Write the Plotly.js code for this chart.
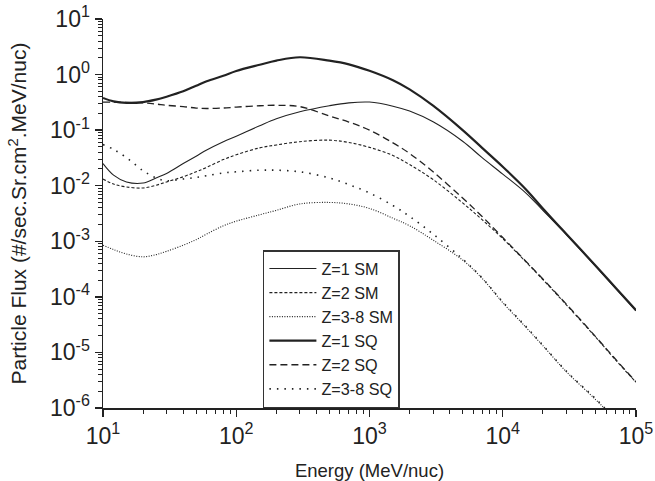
<!DOCTYPE html>
<html>
<head>
<meta charset="utf-8">
<script src="https://cdn.plot.ly/plotly-3.0.1.min.js"></script>
<style>html,body{margin:0;padding:0;background:#fff;}#chart{width:655px;height:481px;}</style>
</head>
<body>
<div id="chart"></div>
<script>
// Energy (MeV/nuc)
const energy = [10,12,15,20,25,30,40,50,60,80,100,150,200,300,500,700,1000,1500,2000,3000,5000,7000,10000,15000,20000,30000,50000,70000,100000];

// Particle flux series
const z1SM  = [0.025,0.0155,0.0117,0.0112,0.0138,0.0166,0.025,0.034,0.044,0.062,0.078,0.12,0.16,0.214,0.275,0.31,0.32,0.27,0.22,0.141,0.063,0.032,0.0162,0.0073,0.0036,0.00132,3.5e-4,1.43e-4,5.6e-5];
const z2SM  = [0.0132,0.0107,0.0095,0.0091,0.0102,0.0117,0.0145,0.0178,0.0214,0.0295,0.036,0.048,0.054,0.062,0.066,0.060,0.049,0.035,0.024,0.0129,0.0049,0.00245,0.00112,4.2e-4,2.05e-4,7.2e-5,1.86e-5,7.4e-6,2.9e-6];
const z38SM = [8.5e-4,7.1e-4,5.9e-4,5.25e-4,5.75e-4,6.6e-4,8.5e-4,1.07e-3,1.35e-3,1.9e-3,2.3e-3,3.0e-3,3.6e-3,4.7e-3,5.0e-3,4.7e-3,3.9e-3,2.6e-3,1.9e-3,1.05e-3,4.6e-4,2.15e-4,7.9e-5,2.8e-5,1.32e-5,4.5e-6,1.4e-6,6.2e-7,2.4e-7];
const z1SQ  = [0.38,0.33,0.31,0.32,0.355,0.40,0.50,0.63,0.76,0.95,1.16,1.50,1.78,2.05,1.78,1.53,1.17,0.79,0.54,0.275,0.10,0.048,0.022,0.0085,0.0039,0.00135,3.6e-4,1.48e-4,5.75e-5];
const z2SQ  = [0.32,0.32,0.315,0.31,0.295,0.28,0.265,0.25,0.245,0.25,0.26,0.275,0.28,0.265,0.18,0.14,0.10,0.059,0.038,0.0178,0.0060,0.0028,0.00117,4.3e-4,2.1e-4,7.4e-5,1.9e-5,7.6e-6,2.95e-6];
const z38SQ = [0.055,0.045,0.032,0.0186,0.0138,0.0123,0.0132,0.0141,0.0151,0.017,0.0178,0.019,0.019,0.0178,0.0138,0.0105,0.0074,0.0044,0.0028,0.00135,4.8e-4,2.2e-4,8.1e-5,2.9e-5,1.35e-5,4.6e-6,1.45e-6,6.3e-7,2.5e-7];

const seriesNames = ['Z=1 SM','Z=2 SM','Z=3-8 SM','Z=1 SQ','Z=2 SQ','Z=3-8 SQ'];
const seriesData = [z1SM, z2SM, z38SM, z1SQ, z2SQ, z38SQ];

const xTickVals = [10,100,1000,10000,100000];
const xTickText = ['10<sup>1</sup>','10<sup>2</sup>','10<sup>3</sup>','10<sup>4</sup>','10<sup>5</sup>'];
const yTickVals = [1e-6,1e-5,1e-4,1e-3,1e-2,1e-1,1,10];
const yTickText = ['10<sup>-6</sup>','10<sup>-5</sup>','10<sup>-4</sup>','10<sup>-3</sup>','10<sup>-2</sup>','10<sup>-1</sup>','10<sup>0</sup>','10<sup>1</sup>'];

const styles = [
  {width:1.1, dash:'solid'},
  {width:1.1, dash:'3px,2px'},
  {width:1.1, dash:'1px,1.5px'},
  {width:2.2, dash:'solid'},
  {width:1.3, dash:'7px,4px'},
  {width:1.6, dash:'1.5px,6px'}
];

const traces = seriesData.map((d,i)=>({
  x: energy, y: d, name: seriesNames[i], type:'scatter', mode:'lines',
  legendgroup: 'g'+i,
  line: {color:'#222', width: styles[i].width, dash: styles[i].dash, shape:'spline', smoothing:1}
}));

const fam = '"Liberation Sans", Arial, sans-serif';

const layout = {
  width:655, height:481,
  margin:{l:103, r:19, t:19, b:73},
  paper_bgcolor:'#fff', plot_bgcolor:'#fff',
  font:{family:fam, size:16, color:'#222'},
  showlegend:true,
  legend:{
    x:0.3, y:0, xanchor:'left', yanchor:'bottom',
    bordercolor:'#333', borderwidth:1.5, bgcolor:'#fff',
    font:{family:fam, size:16.2, color:'#222'},
    itemwidth:47, tracegroupgap:5.5, traceorder:'normal'
  },
  xaxis:{
    type:'log', range:[1,5],
    tickmode:'array', tickvals:xTickVals, ticktext:xTickText,
    ticks:'outside', ticklen:7, tickwidth:1.3, tickcolor:'#222',
    minor:{ticks:'outside', ticklen:4, tickwidth:1, tickcolor:'#222', dtick:'D1', showgrid:false},
    showline:true, linecolor:'#222', linewidth:1.5,
    showgrid:false, zeroline:false,
    tickfont:{family:fam, size:23, color:'#222'},
    title:{text:'Energy (MeV/nuc)', font:{family:fam, size:18.5, color:'#222'}, standoff:18}
  },
  yaxis:{
    type:'log', range:[-6,1],
    tickmode:'array', tickvals:yTickVals, ticktext:yTickText,
    ticks:'outside', ticklen:7, tickwidth:1.3, tickcolor:'#222',
    minor:{ticks:'outside', ticklen:4, tickwidth:1, tickcolor:'#222', dtick:'D1', showgrid:false},
    showline:true, linecolor:'#222', linewidth:1.5,
    showgrid:false, zeroline:false,
    tickfont:{family:fam, size:23, color:'#222'},
    title:{text:'Particle Flux (#/sec.Sr.cm<sup>2</sup>.MeV/nuc)', font:{family:fam, size:21, color:'#222'}, standoff:17}
  }
};

Plotly.newPlot('chart', traces, layout, {displayModeBar:false, staticPlot:true});
</script>
</body>
</html>
